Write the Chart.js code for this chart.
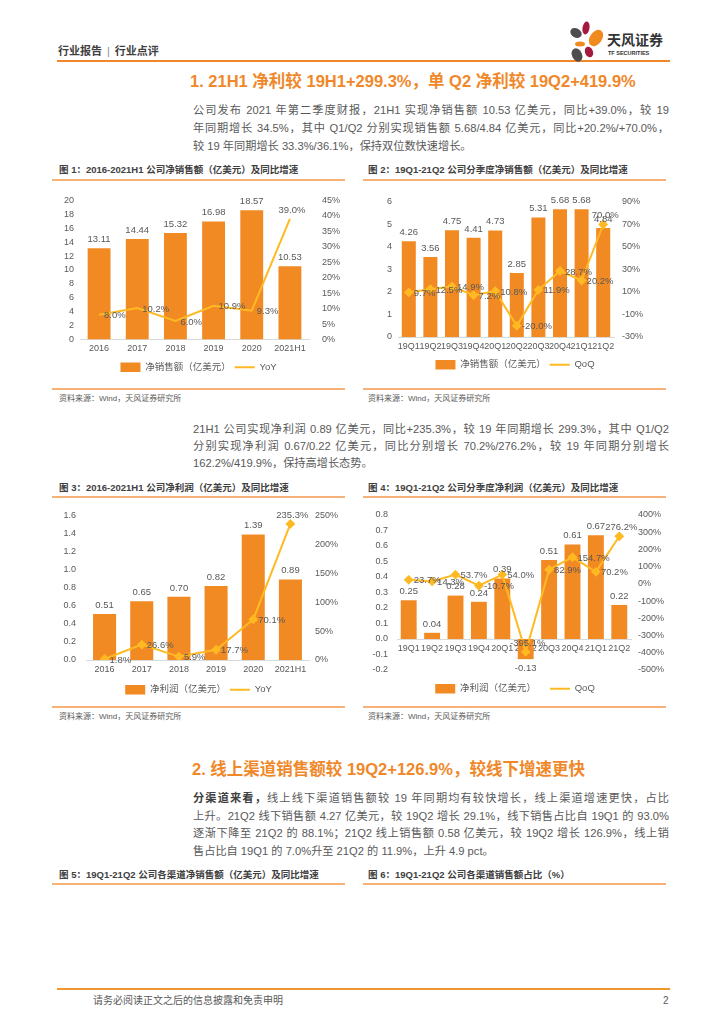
<!DOCTYPE html>
<html>
<head>
<meta charset="utf-8">
<script src="https://cdn.jsdelivr.net/npm/chart.js@4"></script>
<style>
  body { margin: 0; width: 724px; height: 1024px; background: #fff; position: relative; overflow: hidden;
         font-family: "Liberation Sans", "Noto Sans CJK SC", sans-serif; color: #595959; }
  .abs { position: absolute; white-space: nowrap; }
  .hd { font-size: 16.5px; color: #F0882A; font-weight: bold; line-height: 20px; }
  .para { position: absolute; left: 193px; width: 476px; font-size: 11.2px; line-height: 18px; color: #595959; }
  .para div { position: absolute; left: 0; width: 476px; text-align: justify; text-align-last: justify; }
  .para div.last { text-align-last: left; }
  .cap { font-size: 9.5px; font-weight: bold; color: #404040; line-height: 12px; }
  .src { font-size: 8px; color: #595959; line-height: 10px; }
  .ln { position: absolute; height: 1.5px; background: #F7B27A; }
  canvas { position: absolute; }
</style>
</head>
<body>

<!-- 页眉 -->
<div class="abs" style="left:58px;top:44px;font-size:11px;font-weight:bold;color:#404040;line-height:14px;">行业报告<span style="font-weight:normal;color:#8c8c8c;margin:0 5px;">|</span>行业点评</div>
<div class="abs" style="left:57px;top:60px;width:613px;height:2px;background:#F0882A;"></div>
<svg class="abs" style="left:566px;top:19px;" width="40" height="44">
  <ellipse cx="10" cy="14" rx="6" ry="4.5" fill="#4d4d4d" transform="rotate(30 10 14)"/>
  <ellipse cx="20" cy="9" rx="3.5" ry="6.5" fill="#a3193f" transform="rotate(10 20 9)"/>
  <ellipse cx="30" cy="19" rx="6" ry="9" fill="#F08A1E" transform="rotate(35 30 19)"/>
  <ellipse cx="14" cy="25" rx="5" ry="2.5" fill="#F08A1E"/>
  <ellipse cx="11" cy="36" rx="5" ry="7" fill="#4d4d4d" transform="rotate(-25 11 36)"/>
  <ellipse cx="23" cy="33" rx="4" ry="5.5" fill="#a3193f" transform="rotate(-20 23 33)"/>
</svg>
<div class="abs" style="left:607px;top:31px;font-size:14px;font-weight:bold;color:#333;line-height:18px;">天风证券</div>
<div class="abs" style="left:608px;top:50px;font-size:5.5px;font-weight:bold;color:#333;line-height:7px;">TF SECURITIES</div>

<!-- 第一部分 -->
<div class="abs hd" style="left:190px;top:71px;">1. 21H1 净利较 19H1+299.3%，单 Q2 净利较 19Q2+419.9%</div>
<div class="para" style="top:101px;">
  <div style="top:0px;">公司发布 2021 年第二季度财报，21H1 实现净销售额 10.53 亿美元，同比+39.0%，较 19</div>
  <div style="top:18px;">年同期增长 34.5%，其中 Q1/Q2 分别实现销售额 5.68/4.84 亿美元，同比+20.2%/+70.0%，</div>
  <div class="last" style="top:36px;">较 19 年同期增长 33.3%/36.1%，保持双位数快速增长。</div>
</div>

<div class="abs cap" style="left:59px;top:164px;">图 1：2016-2021H1 公司净销售额（亿美元）及同比增速</div>
<div class="abs cap" style="left:368px;top:164px;">图 2：19Q1-21Q2 公司分季度净销售额（亿美元）及同比增速</div>
<div class="ln" style="left:52px;top:179px;width:293px;"></div>
<div class="ln" style="left:363px;top:179px;width:303px;"></div>
<canvas id="chart1" width="293" height="203" style="left:52px;top:182px;"></canvas>
<canvas id="chart2" width="306" height="203" style="left:362px;top:182px;"></canvas>
<div class="ln" style="left:52px;top:388px;width:293px;"></div>
<div class="ln" style="left:363px;top:388px;width:303px;"></div>
<div class="abs src" style="left:59px;top:394px;">资料来源：Wind，天风证券研究所</div>
<div class="abs src" style="left:368px;top:394px;">资料来源：Wind，天风证券研究所</div>

<div class="para" style="top:420px;">
  <div style="top:0px;">21H1 公司实现净利润 0.89 亿美元，同比+235.3%，较 19 年同期增长 299.3%，其中 Q1/Q2</div>
  <div style="top:17px;">分别实现净利润 0.67/0.22 亿美元，同比分别增长 70.2%/276.2%，较 19 年同期分别增长</div>
  <div class="last" style="top:34px;">162.2%/419.9%，保持高增长态势。</div>
</div>

<div class="abs cap" style="left:59px;top:482px;">图 3：2016-2021H1 公司净利润（亿美元）及同比增速</div>
<div class="abs cap" style="left:368px;top:482px;">图 4：19Q1-21Q2 公司分季度净利润（亿美元）及同比增速</div>
<div class="ln" style="left:52px;top:496px;width:293px;"></div>
<div class="ln" style="left:363px;top:496px;width:303px;"></div>
<canvas id="chart3" width="293" height="205" style="left:52px;top:500px;"></canvas>
<canvas id="chart4" width="306" height="205" style="left:362px;top:500px;"></canvas>
<div class="ln" style="left:52px;top:706px;width:293px;"></div>
<div class="ln" style="left:363px;top:706px;width:303px;"></div>
<div class="abs src" style="left:59px;top:712px;">资料来源：Wind，天风证券研究所</div>
<div class="abs src" style="left:368px;top:712px;">资料来源：Wind，天风证券研究所</div>

<!-- 第二部分 -->
<div class="abs hd" style="left:192px;top:759px;">2. 线上渠道销售额较 19Q2+126.9%，较线下增速更快</div>
<div class="para" style="top:789px;">
  <div style="top:0px;"><b style="color:#404040;">分渠道来看，</b>线上线下渠道销售额较 19 年同期均有较快增长，线上渠道增速更快，占比</div>
  <div style="top:17.5px;">上升。21Q2 线下销售额 4.27 亿美元，较 19Q2 增长 29.1%，线下销售占比自 19Q1 的 93.0%</div>
  <div style="top:35px;">逐渐下降至 21Q2 的 88.1%；21Q2 线上销售额 0.58 亿美元，较 19Q2 增长 126.9%，线上销</div>
  <div class="last" style="top:52.5px;">售占比自 19Q1 的 7.0%升至 21Q2 的 11.9%，上升 4.9 pct。</div>
</div>

<div class="abs cap" style="left:59px;top:869px;">图 5：19Q1-21Q2 公司各渠道净销售额（亿美元）及同比增速</div>
<div class="abs cap" style="left:368px;top:869px;">图 6：19Q1-21Q2 公司各渠道销售额占比（%）</div>
<div class="ln" style="left:52px;top:883px;width:293px;"></div>
<div class="ln" style="left:363px;top:883px;width:303px;"></div>

<!-- 页脚 -->
<div class="abs" style="left:57px;top:988px;width:613px;height:2px;background:#F0982E;"></div>
<div class="abs" style="left:93px;top:994px;font-size:10px;line-height:14px;color:#595959;">请务必阅读正文之后的信息披露和免责申明</div>
<div class="abs" style="left:663px;top:994px;font-size:10px;line-height:14px;color:#595959;">2</div>

<script>
// 数据
const years = ['2016', '2017', '2018', '2019', '2020', '2021H1'];
const quarters = ['19Q1', '19Q2', '19Q3', '19Q4', '20Q1', '20Q2', '20Q3', '20Q4', '21Q1', '21Q2'];

const salesYear = [13.11, 14.44, 15.32, 16.98, 18.57, 10.53];
const salesYoY = [8.0, 10.2, 6.0, 10.9, 9.3, 39.0];

const salesQ = [4.26, 3.56, 4.75, 4.41, 4.73, 2.85, 5.31, 5.68, 5.68, 4.84];
const salesQoQ = [9.7, 12.5, 14.9, 7.2, 10.8, -20.0, 11.9, 28.7, 20.2, 70.0];

const profitYear = [0.51, 0.65, 0.70, 0.82, 1.39, 0.89];
const profitYoY = [1.8, 26.6, 5.9, 17.7, 70.1, 235.3];

const profitQ = [0.25, 0.04, 0.28, 0.24, 0.39, -0.13, 0.51, 0.61, 0.67, 0.22];
const profitQoQ = [23.7, 14.3, 53.7, -10.7, 54.0, -395.1, 82.9, 154.7, 70.2, 276.2];

// 样式
const BAR_COLOR = '#F28A24';
const LINE_COLOR = '#FFB922';
const TEXT_COLOR = '#595959';
Chart.defaults.font.family = '"Liberation Sans", "Noto Sans CJK SC", sans-serif';
Chart.defaults.color = TEXT_COLOR;

// 数据标签
const valueLabels = {
    id: 'valueLabels',
    afterDatasetsDraw(chart, args, opts) {
        const ctx = chart.ctx;
        ctx.save();
        ctx.font = '9.5px "Liberation Sans", "Noto Sans CJK SC", sans-serif';
        ctx.fillStyle = TEXT_COLOR;
        chart.data.datasets.forEach((ds, i) => {
            const meta = chart.getDatasetMeta(i);
            meta.data.forEach((el, j) => {
                const v = ds.data[j];
                if (ds.type === 'line') {
                    const text = v.toFixed(1) + '%';
                    if ((opts.above || []).includes(j)) {
                        ctx.textAlign = 'center';
                        ctx.textBaseline = 'bottom';
                        ctx.fillText(text, el.x + 2, el.y - 4);
                    } else {
                        ctx.textAlign = 'left';
                        ctx.textBaseline = 'middle';
                        ctx.fillText(text, el.x + 5, el.y + 1);
                    }
                } else {
                    ctx.textAlign = 'center';
                    const text = v.toFixed(2);
                    if (v >= 0) {
                        ctx.textBaseline = 'bottom';
                        ctx.fillText(text, el.x, el.y - 4);
                    } else {
                        ctx.textBaseline = 'top';
                        ctx.fillText(text, el.x, el.y + 4);
                    }
                }
            });
        });
        ctx.restore();
    }
};

const legendLabels = (padding) => ({
    usePointStyle: true,
    pointStyleWidth: 20,
    padding: padding,
    color: TEXT_COLOR,
    font: { size: 9.5 },
    sort: (a, b) => a.datasetIndex - b.datasetIndex,
    generateLabels(chart) {
        const items = Chart.defaults.plugins.legend.labels.generateLabels(chart);
        items.forEach(it => {
            const ds = chart.data.datasets[it.datasetIndex];
            if (ds.type === 'line') {
                it.pointStyle = 'line';
                it.strokeStyle = LINE_COLOR;
                it.lineWidth = 2;
            } else {
                it.pointStyle = 'rect';
                it.fillStyle = BAR_COLOR;
                it.strokeStyle = BAR_COLOR;
                it.lineWidth = 0;
            }
        });
        return items;
    }
});

function makeChart(id, cfg) {
    const axisTicks = { font: { size: 9 }, color: TEXT_COLOR };
    const noGrid = { display: false, drawTicks: false };
    const xScale = {
        grid: noGrid,
        border: { color: '#D9D9D9' },
        ticks: { ...axisTicks, padding: 4, autoSkip: false, maxRotation: 0 },
        afterFit: s => { s.height = cfg.xHeight; }
    };
    if (cfg.xAtZero) xScale.position = { y: 0 };

    return new Chart(document.getElementById(id), {
        type: 'bar',
        data: {
            labels: cfg.labels,
            datasets: [{
                type: 'bar',
                label: cfg.barLabel,
                data: cfg.bars,
                backgroundColor: BAR_COLOR,
                yAxisID: 'y',
                order: 2,
                categoryPercentage: 1,
                barPercentage: cfg.barPct
            }, {
                type: 'line',
                label: cfg.lineLabel,
                data: cfg.line,
                borderColor: LINE_COLOR,
                backgroundColor: LINE_COLOR,
                borderWidth: 2,
                pointStyle: 'rectRot',
                pointRadius: cfg.markers ? 3.5 : 0,
                tension: 0,
                yAxisID: 'y1',
                order: 1
            }]
        },
        options: {
            responsive: false,
            animation: false,
            layout: { padding: cfg.padding },
            scales: {
                x: xScale,
                y: {
                    position: 'left',
                    min: cfg.yMin, max: cfg.yMax,
                    grid: noGrid,
                    border: { display: false },
                    ticks: { ...axisTicks, stepSize: cfg.yStep, padding: cfg.yPad,
                             callback: v => v.toFixed(cfg.yDec) },
                    afterFit: s => { s.width = cfg.yWidth; }
                },
                y1: {
                    position: 'right',
                    min: cfg.rMin, max: cfg.rMax,
                    grid: noGrid,
                    border: { display: false },
                    ticks: { ...axisTicks, stepSize: cfg.rStep, padding: cfg.rPad,
                             callback: v => Math.round(v) + '%' },
                    afterFit: s => { s.width = cfg.rWidth; }
                }
            },
            plugins: {
                legend: { position: 'bottom', labels: legendLabels(cfg.legendPad) },
                tooltip: { enabled: false },
                valueLabels: { above: cfg.above }
            }
        },
        plugins: [valueLabels]
    });
}

// 图1
makeChart('chart1', {
    labels: years, bars: salesYear, line: salesYoY,
    barLabel: '净销售额（亿美元）', lineLabel: 'YoY', markers: false,
    barPct: 0.6, yMin: 0, yMax: 20, yStep: 2, yDec: 0, yWidth: 28, yPad: 6,
    rMin: 0, rMax: 45, rStep: 5, rWidth: 36, rPad: 13,
    xHeight: 19, legendPad: 4, above: [5],
    padding: { top: 16, bottom: 3, left: 0, right: 0 }
});

// 图2
makeChart('chart2', {
    labels: quarters, bars: salesQ, line: salesQoQ,
    barLabel: '净销售额（亿美元）', lineLabel: 'QoQ', markers: true,
    barPct: 0.65, yMin: 0, yMax: 6, yStep: 1, yDec: 0, yWidth: 36, yPad: 6,
    rMin: -30, rMax: 90, rStep: 10, rWidth: 54, rPad: 8,
    xHeight: 19, legendPad: 4, above: [9],
    padding: { top: 20, bottom: 5.5, left: 0, right: 0 }
});

// 图3
makeChart('chart3', {
    labels: years, bars: profitYear, line: profitYoY,
    barLabel: '净利润（亿美元）', lineLabel: 'YoY', markers: true,
    barPct: 0.62, yMin: 0, yMax: 1.6, yStep: 0.2, yDec: 1, yWidth: 34, yPad: 10,
    rMin: 0, rMax: 250, rStep: 50, rWidth: 36, rPad: 6,
    xHeight: 21, legendPad: 4, above: [5],
    padding: { top: 13, bottom: 0.5, left: 0, right: 0 }
});

// 图4
makeChart('chart4', {
    labels: quarters, bars: profitQ, line: profitQoQ,
    barLabel: '净利润（亿美元）', lineLabel: 'QoQ', markers: true, xAtZero: true,
    barPct: 0.68, yMin: -0.2, yMax: 0.8, yStep: 0.1, yDec: 1, yWidth: 35, yPad: 9,
    rMin: -500, rMax: 400, rStep: 100, rWidth: 37, rPad: 7,
    xHeight: 20, legendPad: 14, above: [5, 9],
    padding: { top: 15, bottom: 1.5, left: 0, right: 0 }
});
</script>
</body>
</html>
